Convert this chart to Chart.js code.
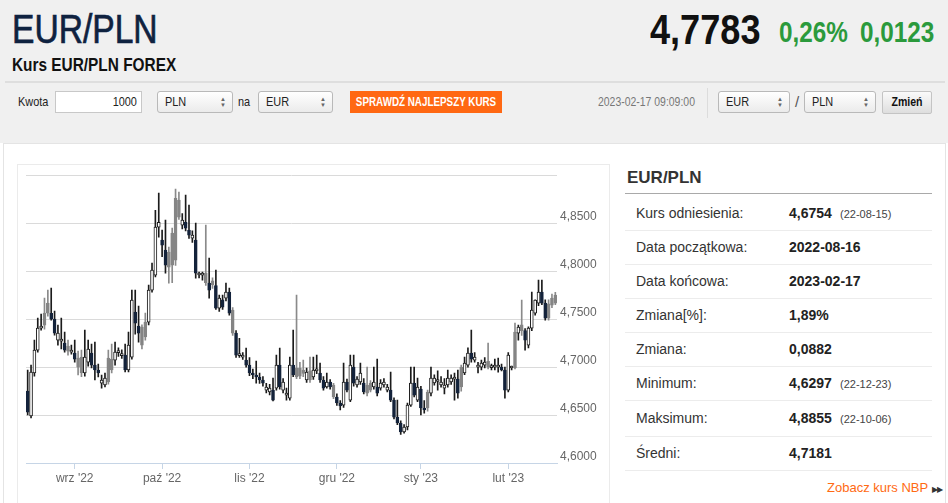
<!DOCTYPE html>
<html lang="pl">
<head>
<meta charset="UTF-8">
<title>EUR/PLN</title>
<script src="https://cdn.jsdelivr.net/npm/chart.js"></script>
<style>
  body { margin:0; width:948px; height:503px; overflow:hidden; background:#fff; position:relative;
         font-family:"Liberation Sans", Arial, sans-serif; color:#333; }
  .abs { position:absolute; white-space:nowrap; }
  /* no narrow face installed: squeeze the regular one */
  .nx { display:inline-block; transform-origin:0 0; }
  .nc { position:absolute; left:50%; top:0; white-space:nowrap; }
  #top { position:absolute; left:0; top:0; width:948px; height:143px; background:#f0f0f0; }
  .sel { position:absolute; top:91px; border:1px solid #b9b9b9; border-radius:3px;
         background:linear-gradient(#ffffff, #ebebeb); font-size:13px; line-height:20px; padding-left:7px; box-sizing:border-box; height:22px; color:#222; }
  .sel .arr { position:absolute; right:6px; top:4px; font-size:6px; line-height:6px; color:#666; text-align:center; }
  #panel { position:absolute; left:3px; top:143px; width:941px; height:380px; background:#fff; border:1px solid #e4e4e4; }
  #chartBox { position:absolute; left:17px; top:164px; width:593px; height:360px; border:1px solid #ebebeb; box-sizing:border-box; }
  #chartWrap { position:absolute; left:18px; top:165px; width:592px; height:338px; }
  .lbl { position:absolute; left:636px; font-size:14px; color:#333; }
  .val { position:absolute; left:789px; font-size:14px; font-weight:bold; color:#222; }
  .dt  { position:absolute; left:840px; font-size:11px; color:#444; }
  .sep { position:absolute; left:625px; width:307px; height:1px; background:#ececec; }
</style>
</head>
<body>

<div id="top"></div>
<div class="abs" style="left:12px; top:9px; font-size:40px; line-height:40px; color:#0f2240; -webkit-text-stroke:0.7px #0f2240;"><span class="nx" style="transform:scaleX(0.84);">EUR/PLN</span></div>
<div class="abs" style="left:12px; top:56px; font-size:18px; line-height:18px; font-weight:bold; color:#111;"><span class="nx" style="transform:scaleX(0.855);">Kurs EUR/PLN FOREX</span></div>
<div class="abs" style="left:650px; top:10px; font-size:42px; line-height:40px; font-weight:bold; color:#111;"><span class="nx" style="transform:scaleX(0.86);">4,7783</span></div>
<div class="abs" style="left:779px; top:17px; font-size:30px; line-height:30px; font-weight:bold; color:#2b9a3c;"><span class="nx" style="transform:scaleX(0.81);">0,26%</span></div>
<div class="abs" style="left:860px; top:17px; font-size:30px; line-height:30px; font-weight:bold; color:#2b9a3c;"><span class="nx" style="transform:scaleX(0.81);">0,0123</span></div>
<div class="abs" style="left:5px; top:81px; width:940px; height:2px; background:#dedede;"></div>

<div class="abs" style="left:18px; top:94px; font-size:13px; line-height:16px; color:#222;"><span class="nx" style="transform:scaleX(0.84);">Kwota</span></div>
<div class="abs" style="left:55px; top:91px; width:87px; height:22px; box-sizing:border-box; border:1px solid #c8c8c8; background:#fff; font-size:13px; line-height:20px; text-align:right; padding-right:4px; color:#222;"><span class="nx" style="transform:scaleX(0.84); transform-origin:100% 0;">1000</span></div>
<div class="sel" style="left:157px; width:76px;"><span class="nx" style="transform:scaleX(0.84);">PLN</span><span class="arr">&#9650;<br>&#9660;</span></div>
<div class="abs" style="left:238px; top:94px; font-size:13px; line-height:16px; color:#222;"><span class="nx" style="transform:scaleX(0.84);">na</span></div>
<div class="sel" style="left:258px; width:75px;"><span class="nx" style="transform:scaleX(0.84);">EUR</span><span class="arr">&#9650;<br>&#9660;</span></div>
<div class="abs" style="left:350px; top:91px; width:152px; height:22px; background:#ff6813; color:#fff; font-size:12px; font-weight:bold; line-height:22px;"><span class="nc" style="transform:translateX(-50%) scaleX(0.82);">SPRAWDŹ NAJLEPSZY KURS</span></div>
<div class="abs" style="left:598px; top:95px; font-size:12px; line-height:14px; color:#777;"><span class="nx" style="transform:scaleX(0.87);">2023-02-17 09:09:00</span></div>
<div class="abs" style="left:707px; top:88px; width:1px; height:30px; background:#dcdcdc;"></div>
<div class="sel" style="left:718px; width:72px;"><span class="nx" style="transform:scaleX(0.84);">EUR</span><span class="arr">&#9650;<br>&#9660;</span></div>
<div class="abs" style="left:795px; top:93px; font-size:15px; line-height:18px; color:#555;">/</div>
<div class="sel" style="left:804px; width:72px;"><span class="nx" style="transform:scaleX(0.84);">PLN</span><span class="arr">&#9650;<br>&#9660;</span></div>
<div class="abs" style="left:882px; top:91px; width:50px; height:23px; box-sizing:border-box; border:1px solid #c4c4c4; border-radius:2px; background:linear-gradient(#fafafa, #dedede); font-size:12px; font-weight:bold; line-height:21px; color:#111;"><span class="nc" style="transform:translateX(-50%) scaleX(0.88);">Zmień</span></div>

<div id="panel"></div>
<div id="chartBox"></div>
<div id="chartWrap"><canvas id="fxChart" width="592" height="338"></canvas></div>

<div class="abs" style="left:627px; top:168px; font-size:17px; line-height:20px; font-weight:bold; color:#333;">EUR/PLN</div>
<div class="abs" style="left:625px; top:193px; width:307px; height:1px; background:#a9a9a9;"></div>
<div id="stats"></div>
<div class="abs" style="left:827px; top:480px; font-size:13px; line-height:16px; color:#ff6a13;">Zobacz kurs NBP <span style="font-size:8px; color:#333; letter-spacing:-1px;">&#9654;&#9654;</span></div>

<script>
    // EUR/PLN daily candles, 2022-08-16 .. 2023-02-17 (no Saturdays)
    const startDate = '2022-08-16';
    const endDate = '2023-02-17';
    const closedDays = ['2022-12-25', '2023-01-01'];
    const refClose = 4.6754;

    const monthLabels = ["wrz '22", "paź '22", "lis '22", "gru '22", "sty '23", "lut '23"];

    const opens = [
        4.6750, 4.6490, 4.6938, 4.7177, 4.7406, 4.7563, 4.7667, 4.7560, 4.7500, 4.7281,
        4.7271, 4.7250, 4.7219, 4.7156, 4.7146, 4.7094, 4.7104, 4.6938, 4.7052, 4.7146,
        4.7021, 4.6969, 4.6833, 4.6813, 4.7094, 4.7083, 4.7073, 4.7150, 4.7120, 4.7125,
        4.6969, 4.7104, 4.7573, 4.7427, 4.7417, 4.7469, 4.7469, 4.7802, 4.7958, 4.8458,
        4.8323, 4.8219, 4.8198, 4.8396, 4.8760, 4.8740, 4.8479, 4.8510, 4.8427, 4.8344,
        4.8323, 4.7960, 4.7958, 4.7980, 4.7875, 4.7900, 4.7850, 4.7615, 4.7700, 4.7719,
        4.7781, 4.7594, 4.7354, 4.7120, 4.7104, 4.7073, 4.7021, 4.6938, 4.6917, 4.6896,
        4.6865, 4.6760, 4.6740, 4.6760, 4.6781, 4.7021, 4.6760, 4.6708, 4.6677, 4.7021,
        4.6990, 4.6990, 4.6969, 4.6865, 4.6960, 4.6896, 4.6960, 4.6938, 4.6865, 4.6792,
        4.6844, 4.6813, 4.6688, 4.6625, 4.6604, 4.6844, 4.6656, 4.7000, 4.6813, 4.6844,
        4.6833, 4.6813, 4.6833, 4.6792, 4.6792, 4.6781, 4.6813, 4.6760, 4.6760, 4.6656,
        4.6479, 4.6417, 4.6323, 4.6375, 4.6604, 4.6833, 4.6656, 4.6770, 4.6573, 4.6740,
        4.6729, 4.6835, 4.6850, 4.6813, 4.6781, 4.6813, 4.6844, 4.6875, 4.6875, 4.7000,
        4.6938, 4.7021, 4.7146, 4.7073, 4.7000, 4.7000, 4.7021, 4.7060, 4.6995, 4.7000,
        4.7000, 4.7000, 4.6969, 4.6760, 4.6990, 4.7365, 4.7354, 4.7440, 4.7380, 4.7229,
        4.7406, 4.7563, 4.7667, 4.7781, 4.7667, 4.7660, 4.7719, 4.7750
    ];
    const highs = [
        4.6969, 4.7021, 4.7281, 4.7510, 4.7552, 4.7719, 4.7802, 4.7823, 4.7583, 4.7438,
        4.7510, 4.7365, 4.7281, 4.7229, 4.7281, 4.7167, 4.7177, 4.7385, 4.7281, 4.7240,
        4.7260, 4.7031, 4.6917, 4.6938, 4.7177, 4.7240, 4.7260, 4.7200, 4.7180, 4.7240,
        4.7365, 4.7802, 4.7802, 4.7635, 4.7440, 4.7563, 4.7854, 4.8083, 4.8635, 4.8813,
        4.8427, 4.8531, 4.8250, 4.8450, 4.8855, 4.8823, 4.8600, 4.8792, 4.8688, 4.8420,
        4.8500, 4.7990, 4.7990, 4.8479, 4.8135, 4.7930, 4.8010, 4.7750, 4.7750, 4.7875,
        4.7823, 4.7620, 4.7380, 4.7300, 4.7150, 4.7198, 4.7100, 4.6980, 4.7063, 4.6938,
        4.6900, 4.6830, 4.6820, 4.6885, 4.7125, 4.7198, 4.6880, 4.6781, 4.7104, 4.7385,
        4.7750, 4.7050, 4.7073, 4.6990, 4.7104, 4.7104, 4.7125, 4.7042, 4.6900, 4.6938,
        4.6870, 4.6830, 4.6720, 4.6650, 4.7042, 4.6875, 4.7125, 4.7125, 4.6900, 4.7042,
        4.6880, 4.7000, 4.6860, 4.7000, 4.7083, 4.6870, 4.6880, 4.6820, 4.6948, 4.6680,
        4.6656, 4.6440, 4.6400, 4.6625, 4.7000, 4.7000, 4.6885, 4.6800, 4.6650, 4.6760,
        4.7000, 4.6920, 4.6960, 4.6900, 4.6880, 4.6969, 4.6920, 4.6938, 4.6969, 4.7021,
        4.7104, 4.7200, 4.7385, 4.7150, 4.7050, 4.7073, 4.7100, 4.7250, 4.7030, 4.7083,
        4.7094, 4.7030, 4.7000, 4.7150, 4.7010, 4.7458, 4.7438, 4.7698, 4.7400, 4.7420,
        4.7781, 4.7700, 4.7906, 4.7906, 4.7700, 4.7700, 4.7760, 4.7780
    ];
    const lows = [
        4.6500, 4.6469, 4.6906, 4.7156, 4.7385, 4.7396, 4.7531, 4.7490, 4.7333, 4.7229,
        4.7188, 4.7156, 4.7125, 4.7135, 4.7052, 4.6917, 4.6900, 4.6906, 4.7010, 4.6990,
        4.6865, 4.6896, 4.6781, 4.6792, 4.6823, 4.6938, 4.7021, 4.7110, 4.7090, 4.6950,
        4.6950, 4.7083, 4.7344, 4.7260, 4.7188, 4.7280, 4.7440, 4.7780, 4.7940, 4.8354,
        4.8150, 4.7979, 4.7875, 4.7880, 4.8060, 4.8540, 4.8440, 4.8420, 4.8340, 4.8300,
        4.7927, 4.7930, 4.7906, 4.7850, 4.7719, 4.7820, 4.7600, 4.7580, 4.7600, 4.7690,
        4.7540, 4.7330, 4.7100, 4.7100, 4.7080, 4.7000, 4.6910, 4.6880, 4.6833, 4.6830,
        4.6800, 4.6730, 4.6710, 4.6646, 4.6760, 4.6770, 4.6730, 4.6656, 4.6656, 4.6900,
        4.6880, 4.6880, 4.6900, 4.6840, 4.6840, 4.6870, 4.6930, 4.6840, 4.6760, 4.6781,
        4.6770, 4.6670, 4.6600, 4.6552, 4.6580, 4.6740, 4.6640, 4.6800, 4.6790, 4.6820,
        4.6720, 4.6700, 4.6740, 4.6770, 4.6700, 4.6760, 4.6790, 4.6740, 4.6640, 4.6460,
        4.6400, 4.6297, 4.6310, 4.6344, 4.6590, 4.6688, 4.6640, 4.6500, 4.6520, 4.6540,
        4.6700, 4.6810, 4.6760, 4.6790, 4.6720, 4.6790, 4.6820, 4.6656, 4.6677, 4.6750,
        4.6920, 4.7000, 4.7050, 4.7050, 4.6940, 4.6970, 4.6990, 4.6980, 4.6970, 4.6969,
        4.6948, 4.6960, 4.6677, 4.6740, 4.6970, 4.6980, 4.7281, 4.7330, 4.7177, 4.7200,
        4.7380, 4.7540, 4.7640, 4.7650, 4.7490, 4.7490, 4.7620, 4.7650
    ];
    const closes = [
        4.6531, 4.6948, 4.7177, 4.7406, 4.7417, 4.7438, 4.7563, 4.7500, 4.7354, 4.7354,
        4.7281, 4.7177, 4.7167, 4.7177, 4.7083, 4.7000, 4.6938, 4.7104, 4.7188, 4.7021,
        4.6969, 4.6938, 4.6865, 4.6885, 4.6844, 4.6969, 4.7156, 4.7160, 4.7130, 4.6969,
        4.7229, 4.7698, 4.7458, 4.7354, 4.7229, 4.7313, 4.7802, 4.8010, 4.8458, 4.8510,
        4.8271, 4.8063, 4.8042, 4.8063, 4.8115, 4.8563, 4.8531, 4.8448, 4.8375, 4.8375,
        4.7979, 4.7965, 4.7960, 4.7880, 4.7802, 4.7860, 4.7615, 4.7719, 4.7625, 4.7781,
        4.7563, 4.7354, 4.7125, 4.7125, 4.7110, 4.7021, 4.6938, 4.6917, 4.6896, 4.6865,
        4.6833, 4.6792, 4.6781, 4.6656, 4.7021, 4.6792, 4.6844, 4.6715, 4.7021, 4.6917,
        4.6896, 4.6906, 4.6935, 4.6948, 4.6865, 4.6969, 4.6965, 4.6865, 4.6781, 4.6844,
        4.6792, 4.6688, 4.6625, 4.6594, 4.6844, 4.6760, 4.7021, 4.6833, 4.6875, 4.6938,
        4.6740, 4.6729, 4.6760, 4.6844, 4.6729, 4.6833, 4.6844, 4.6792, 4.6656, 4.6479,
        4.6417, 4.6323, 4.6375, 4.6604, 4.6833, 4.6708, 4.6792, 4.6573, 4.6552, 4.6573,
        4.6885, 4.6885, 4.6865, 4.6844, 4.6813, 4.6885, 4.6885, 4.6880, 4.6729, 4.6792,
        4.7042, 4.7146, 4.7083, 4.7104, 4.7005, 4.7042, 4.7052, 4.7000, 4.7000, 4.7005,
        4.7005, 4.6969, 4.6760, 4.7125, 4.6995, 4.6990, 4.7417, 4.7380, 4.7281, 4.7406,
        4.7594, 4.7698, 4.7781, 4.7667, 4.7510, 4.7510, 4.7646, 4.7667
    ];

    const statLabels = ['Kurs odniesienia:', 'Data początkowa:', 'Data końcowa:', 'Zmiana[%]:', 'Zmiana:', 'Minimum:', 'Maksimum:', 'Średni:'];
    const statValues = ['4,6754', '2022-08-16', '2023-02-17', '1,89%', '0,0882', '4,6297', '4,8855', '4,7181'];
    const statDates  = ['(22-08-15)', '', '', '', '', '(22-12-23)', '(22-10-06)', ''];

    // side table
    let html = '';
    const rowMid = [213, 247, 281, 315, 349, 383, 418, 453];
    const rowSep = [230, 264, 298, 332, 366, 400, 436, 470];
    for (let i = 0; i < statLabels.length; i++) {
        html += '<div class="lbl" style="top:' + (rowMid[i] - 9) + 'px; line-height:18px;">' + statLabels[i] + '</div>';
        html += '<div class="val" style="top:' + (rowMid[i] - 9) + 'px; line-height:18px;">' + statValues[i] + '</div>';
        if (statDates[i]) html += '<div class="dt" style="top:' + (rowMid[i] - 7) + 'px; line-height:16px;">' + statDates[i] + '</div>';
        html += '<div class="sep" style="top:' + rowSep[i] + 'px;"></div>';
    }
    document.getElementById('stats').innerHTML = html;

    // trading days (forex: every day except Saturdays and closed days)
    function tradingDays(from, to, skip) {
        let out = [];
        let d = new Date(from + 'T00:00:00Z');
        let end = new Date(to + 'T00:00:00Z');
        while (d <= end) {
            let s = d.toISOString().slice(0, 10);
            if (d.getUTCDay() !== 6 && !skip.includes(s)) out.push(s);
            d.setUTCDate(d.getUTCDate() + 1);
        }
        return out;
    }
    const days = tradingDays(startDate, endDate, closedDays);

    let monthStarts = [];
    for (let i = 1; i < days.length; i++) {
        if (days[i].slice(0, 7) !== days[i - 1].slice(0, 7)) monthStarts.push(i);
    }

    // up = hollow, down = dark, down after an opening gap up = gray
    const kinds = closes.map(function (c, i) {
        if (c >= opens[i]) return 'up';
        let prev = i > 0 ? closes[i - 1] : refClose;
        return opens[i] > prev ? 'gap' : 'down';
    });
    const fillCol = { up: '#ffffff', down: '#14233b', gap: '#858585' };
    const edgeCol = { up: '#1b1b1b', down: '#14233b', gap: '#858585' };
    const wickCol = { up: '#1b1b1b', down: '#1b1b1b', gap: '#8a8a8a' };

    const fmt = function (v) { return v.toFixed(4).replace('.', ','); };

    const ctx = document.getElementById('fxChart').getContext('2d');
    const fxChart = new Chart(ctx, {
        type: 'bar',
        data: {
            labels: days,
            datasets: [
                {
                    label: 'body',
                    data: opens.map(function (o, i) { return [Math.min(o, closes[i]), Math.max(o, closes[i])]; }),
                    backgroundColor: kinds.map(function (k) { return fillCol[k]; }),
                    borderColor: kinds.map(function (k) { return edgeCol[k]; }),
                    borderWidth: 1,
                    borderSkipped: false,
                    barThickness: 3,
                    minBarLength: 2,
                    grouped: false,
                    order: 0
                },
                {
                    label: 'wick',
                    data: lows.map(function (l, i) { return [l, highs[i]]; }),
                    backgroundColor: kinds.map(function (k) { return wickCol[k]; }),
                    borderWidth: 0,
                    barThickness: 1,
                    grouped: false,
                    order: 1
                }
            ]
        },
        options: {
            responsive: false,
            animation: false,
            layout: { padding: { left: 8, top: 10, right: 0, bottom: 0 } },
            plugins: { legend: { display: false }, tooltip: { enabled: false } },
            scales: {
                x: {
                    type: 'category',
                    offset: true,
                    afterBuildTicks: function (scale) {
                        scale.ticks = scale.ticks.filter(function (t) { return monthStarts.includes(t.value); });
                    },
                    afterFit: function (scale) { scale.height = 40; },
                    grid: { display: true, drawOnChartArea: false, drawTicks: true, tickLength: 6, color: '#c6d5e6', offset: false },
                    border: { display: true, color: '#c6d5e6' },
                    ticks: {
                        autoSkip: false,
                        maxRotation: 0,
                        padding: 2,
                        color: '#666',
                        font: { family: 'Liberation Sans', size: 12 },
                        callback: function (value) {
                            let k = monthStarts.indexOf(value);
                            return k >= 0 ? monthLabels[k] : '';
                        }
                    }
                },
                y: {
                    position: 'right',
                    min: 4.6,
                    max: 4.9,
                    afterFit: function (scale) { scale.width = 53; },
                    grid: { color: '#dadada', drawTicks: false },
                    border: { display: false },
                    ticks: {
                        stepSize: 0.05,
                        padding: 3,
                        labelOffset: -6,
                        color: '#666',
                        font: { family: 'Liberation Sans', size: 12 },
                        callback: function (v) { return v > 4.899 ? '' : fmt(v); }
                    }
                }
            }
        }
    });
</script>
</body>
</html>
